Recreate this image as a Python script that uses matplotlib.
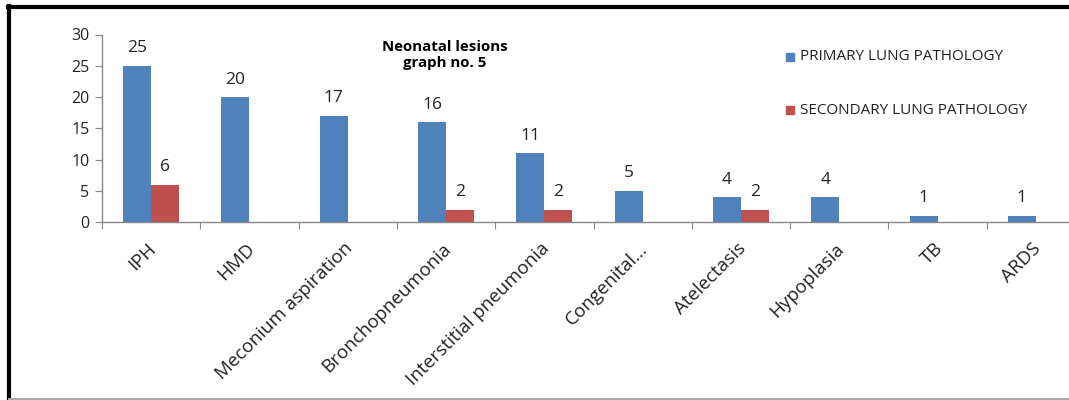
import matplotlib.pyplot as plt
import matplotlib.transforms as mtransforms
import numpy as np
from matplotlib.lines import Line2D

plt.rcParams['font.family'] = ['Open Sans', 'DejaVu Sans']

categories = ['IPH', 'HMD', 'Meconium aspiration', 'Bronchopneumonia',
              'Interstitial pneumonia', 'Congenital...', 'Atelectasis',
              'Hypoplasia', 'TB', 'ARDS']
primary = [25, 20, 17, 16, 11, 5, 4, 4, 1, 1]
secondary = [6, 0, 0, 2, 2, 0, 2, 0, 0, 0]
yticks = [0, 5, 10, 15, 20, 25, 30]

blue = '#4F81BD'
red = '#C0504D'
axis_grey = '#868686'
txt = '#222222'

fig = plt.figure(figsize=(10.69, 4.0), dpi=100)
ax = fig.add_axes([102 / 1069, 1 - 222 / 400, 983 / 1069, (222 - 34.5) / 400])

x = np.arange(len(categories))
w = 0.285
b1 = ax.bar(x - w / 2, primary, w, color=blue, label='PRIMARY LUNG PATHOLOGY')
b2 = ax.bar(x + w / 2, secondary, w, color=red, label='SECONDARY LUNG PATHOLOGY')

for rect, v in zip(b1, primary):
    ax.text(rect.get_x() + rect.get_width() / 2, v + 1.5, str(v),
            ha='center', va='bottom', fontsize=12.5, color=txt)
for rect, v in zip(b2, secondary):
    if v > 0:
        ax.text(rect.get_x() + rect.get_width() / 2, v + 1.5, str(v),
                ha='center', va='bottom', fontsize=12.5, color=txt)

ax.set_xlim(-0.5, len(categories) - 0.5)
ax.set_ylim(0, 30)
ax.set_yticks(yticks)
ax.set_xticks(np.arange(len(categories) + 1) - 0.5, minor=False)
ax.set_xticklabels([])
ax.set_xticks(x, minor=True)
ax.set_xticklabels(categories, minor=True, rotation=45, ha='right',
                   rotation_mode='anchor', fontsize=13.5, color=txt)
ax.tick_params(axis='x', which='minor', length=0, pad=9)
ax.tick_params(axis='x', which='major', length=5, color=axis_grey, direction='out')
ax.tick_params(axis='y', length=5, color=axis_grey, labelsize=11.5, labelcolor=txt, pad=4)

# nudge category labels a bit left and down
shift = mtransforms.ScaledTranslation(-4 / 100, -5 / 100, fig.dpi_scale_trans)
for lbl in ax.get_xticklabels(minor=True):
    lbl.set_transform(lbl.get_transform() + shift)

for s in ['top', 'right']:
    ax.spines[s].set_visible(False)
for s in ['left', 'bottom']:
    ax.spines[s].set_color(axis_grey)
    ax.spines[s].set_linewidth(1)

fig.text(445 / 1069, 1 - 55 / 400, 'Neonatal lesions\ngraph no. 5', ha='center',
         va='center', fontsize=10.8, fontweight='bold', linespacing=1.2)

# legend entries
for yy, col, lab in [(57, blue, 'PRIMARY LUNG PATHOLOGY'),
                     (110, red, 'SECONDARY LUNG PATHOLOGY')]:
    fig.patches.append(plt.Rectangle((786 / 1069, 1 - (yy + 4) / 400), 8 / 1069, 8 / 400,
                                     transform=fig.transFigure, color=col))
    fig.text(800 / 1069, 1 - yy / 400, lab, ha='left', va='center', fontsize=11,
             color=txt)

# outer frame
fig.add_artist(Line2D([9 / 1069, 9 / 1069], [1 - 6 / 400, 1 - 399 / 400],
                      transform=fig.transFigure, color='black', lw=3))
fig.add_artist(Line2D([8 / 1069, 1.0], [1 - 6.5 / 400, 1 - 6.5 / 400],
                      transform=fig.transFigure, color='black', lw=3))
fig.add_artist(Line2D([9 / 1069, 1.0], [1 - 398.5 / 400, 1 - 398.5 / 400],
                      transform=fig.transFigure, color='#aaaaaa', lw=1.5))

fig.savefig('out.png', dpi=100)
